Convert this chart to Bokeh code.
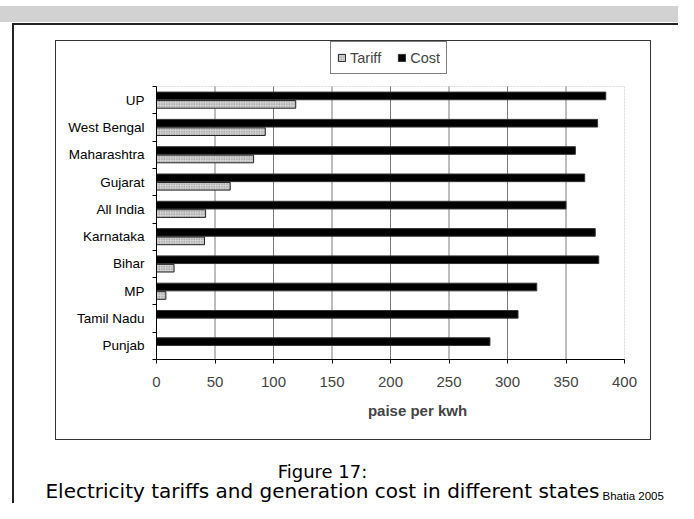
from bokeh.plotting import figure
from bokeh.layouts import column
from bokeh.models import Range1d, FixedTicker, Legend, LegendItem, BoxAnnotation, Label
from bokeh.embed import file_html
from bokeh.resources import INLINE

# ---- data ----
states = ["UP", "West Bengal", "Maharashtra", "Gujarat", "All India",
          "Karnataka", "Bihar", "MP", "Tamil Nadu", "Punjab"]
tariff = [119, 93, 83, 63, 42, 41, 15, 8, 0, 0]
cost = [384, 377, 358, 366, 350, 375, 378, 325, 309, 285]
x_ticks = [0, 50, 100, 150, 200, 250, 300, 350, 400]
caption = ["Figure 17:", "Electricity tariffs and generation cost in different states"]
source = "Bhatia 2005"

N = len(states)
centers = [N - 1 - i + 0.5 for i in range(N)]
label_map = {c: s for c, s in zip(centers, states)}

W, H = 678, 503
H1 = 440            # height of the chart figure
H2 = H - H1         # height of the caption strip
PL, PR, PT, PB = 156, 624, 86, 359
FT = 36
XMAX, YMAX = 400, N
ppx = (PR - PL) / XMAX
ppy = (PB - PT) / YMAX
x_hi = XMAX + (W - PR) / ppx
y_hi = YMAX + (PT - FT) / ppy

def seg(x, y, w, h, c):
    return f"linear-gradient({c},{c}) {x}px {y}px / {w}px {h}px no-repeat"

chrome = ", ".join([
    seg(0, 6, W, 16, "#d2d2d2"),
    seg(12, 23, W - 12, 2, "#222222"),
    seg(12, 23, 2, H - 23, "#222222"),
    seg(55, 40, 596, 1, "#333333"),
    seg(55, 439, 596, 1, "#333333"),
    seg(55, 40, 1, 400, "#333333"),
    seg(650, 40, 1, 400, "#333333"),
    seg(PL, PT, PR - PL, PB - PT, "#ffffff"),
])

p = figure(width=W, height=H1, output_backend="svg", toolbar_location=None,
           x_range=Range1d(0, x_hi), y_range=Range1d(0, y_hi),
           min_border_left=PL, min_border_right=0,
           min_border_top=FT, min_border_bottom=H1 - PB,
           background_fill_color=None, border_fill_color=None)
p.outline_line_color = None

p.add_layout(BoxAnnotation(left=0, right=XMAX, bottom=0, top=YMAX,
                           fill_alpha=0, line_color="#888888", line_width=1,
                           line_dash="2 1", level="underlay"))
p.segment(x0=x_ticks[1:-1], x1=x_ticks[1:-1], y0=0, y1=YMAX,
          line_color="#7a7a7a", line_width=1, level="underlay")

off, hh = 0.155, 0.28
r_cost = p.hbar(y=[c + off for c in centers], right=cost, left=0, height=hh,
                fill_color="black", line_color="#333333", line_width=1)
r_tar = p.hbar(y=[c - off for c in centers], right=tariff, left=0, height=hh,
               fill_color="#d4d4d4", line_color="#222222", line_width=1,
               hatch_pattern="dot", hatch_color="#7a7a7a", hatch_scale=2.5)

p.xaxis.ticker = FixedTicker(ticks=x_ticks)
p.xaxis.bounds = (0, XMAX)
p.xaxis.axis_label = "paise per kwh"
p.xaxis.axis_label_text_font = "Liberation Sans"
p.xaxis.axis_label_text_font_style = "bold"
p.xaxis.axis_label_text_font_size = "15px"
p.xaxis.axis_label_standoff = 12
p.xaxis.major_label_text_font = "Liberation Sans"
p.xaxis.major_label_text_font_size = "15px"
p.xaxis.major_label_standoff = 13
p.xaxis.major_tick_in = 0
p.xaxis.major_tick_out = 4
p.xaxis.minor_tick_line_color = None
p.xaxis.axis_line_color = "black"
p.xaxis.major_tick_line_color = "black"

p.yaxis.ticker = FixedTicker(ticks=centers, minor_ticks=list(range(N + 1)))
p.yaxis.bounds = (0, YMAX)
p.yaxis.major_label_overrides = label_map
p.yaxis.major_label_text_font = "Liberation Sans"
p.yaxis.major_label_text_font_size = "13.5px"
p.yaxis.major_label_text_color = "black"
p.yaxis.major_tick_line_color = None
p.yaxis.major_tick_in = 0
p.yaxis.major_tick_out = 0
p.yaxis.major_label_standoff = 8
p.yaxis.minor_tick_in = 0
p.yaxis.minor_tick_out = 4
p.yaxis.minor_tick_line_color = "black"
p.yaxis.axis_line_color = "black"

p.xgrid.grid_line_color = None
p.ygrid.grid_line_color = None

legend = Legend(items=[LegendItem(label="Tariff", renderers=[r_tar]),
                       LegendItem(label="Cost", renderers=[r_cost])],
                orientation="horizontal", location=(330 - PL, PB - 74),
                border_line_color="black", border_line_width=1,
                background_fill_color="white", background_fill_alpha=1,
                padding=6, spacing=16, label_standoff=4, margin=0,
                glyph_width=9, glyph_height=9, label_height=19,
                label_text_font="Liberation Sans", label_text_font_size="14.5px")
p.add_layout(legend, "center")

# caption strip: pixel-like coordinates, y measured from its top
p2 = figure(width=W, height=H2, output_backend="svg", toolbar_location=None,
            title=None, x_axis_location=None, y_axis_location=None,
            y_range=Range1d(H2, 0), min_border=0,
            background_fill_color=None, border_fill_color=None)
p2.outline_line_color = None
p2.grid.visible = False

aligned_off = False
try:
    p2.frame_align = False
    p.frame_align = False
    aligned_off = True
except Exception:
    aligned_off = False
# if frames stay aligned, p2's frame starts at PL
p2.x_range = Range1d(0, W) if aligned_off else Range1d(PL, W)

for txt, X, Y, fs, font, align in [
    (caption[0], 322, 471 - H1, "18px", "DejaVu Sans", "center"),
    (caption[1], 322, 490 - H1, "20px", "DejaVu Sans", "center"),
    (source, 602, 495 - H1, "11.5px", "Liberation Sans", "left"),
]:
    p2.add_layout(Label(x=X, y=Y, text=txt, text_font_size=fs, text_font=font,
                        text_align=align, text_baseline="middle", text_color="black"))

layout = column(p, p2, spacing=0)
layout.styles = {"background": chrome}

open("out.html", "w").write(file_html(layout, INLINE))
